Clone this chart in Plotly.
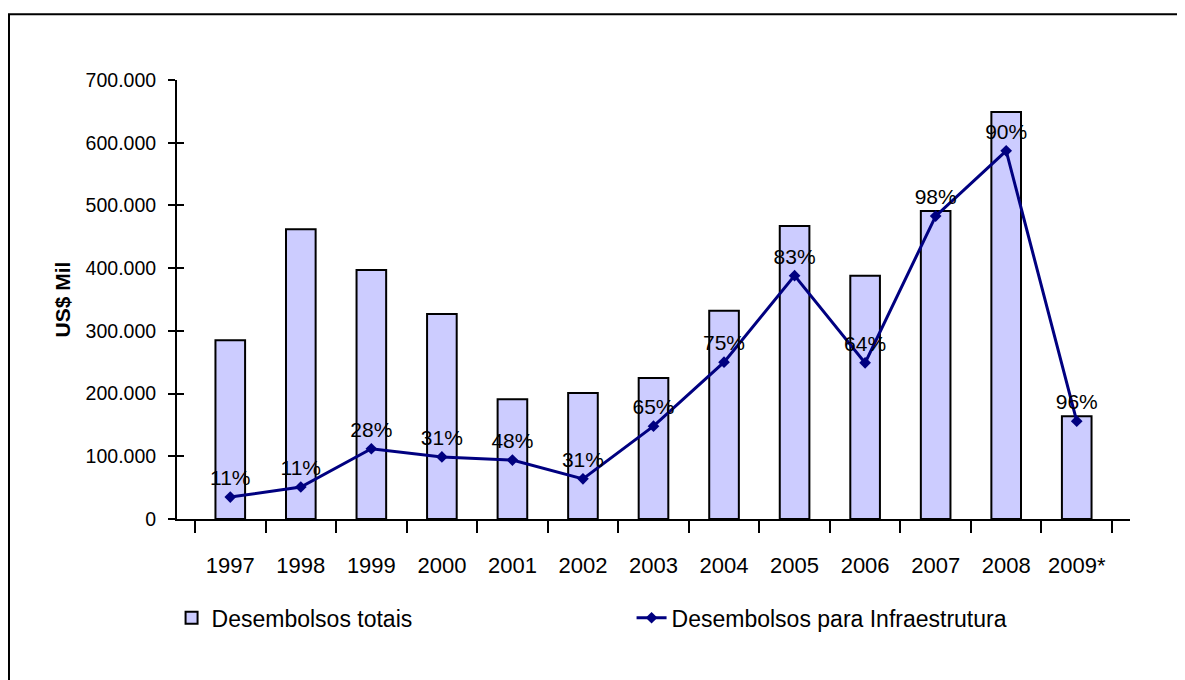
import plotly.graph_objects as go

years = ["1997", "1998", "1999", "2000", "2001", "2002", "2003", "2004",
         "2005", "2006", "2007", "2008", "2009*"]
total = [285000, 462000, 397000, 327000, 191000, 201000, 225000, 332000,
         467000, 388000, 491000, 649000, 164000]
infra = [35000, 51000, 112000, 99000, 94000, 64000, 148000, 250000,
         388000, 249000, 483000, 587000, 156000]
pct_labels = ["11%", "11%", "28%", "31%", "48%", "31%", "65%", "75%",
              "83%", "64%", "98%", "90%", "96%"]

FONT = "Liberation Sans, Arial, sans-serif"
TICKS = [0, 100000, 200000, 300000, 400000, 500000, 600000, 700000]

fig = go.Figure()
fig.add_trace(go.Bar(
    x=years, y=total, name="Desembolsos totais",
    marker=dict(color="#CCCCFF", line=dict(color="black", width=2)),
))
fig.add_trace(go.Scatter(
    x=years, y=infra, name="Desembolsos para Infraestrutura", yaxis="y2",
    mode="lines+markers+text", text=pct_labels, textposition="top center",
    textfont=dict(family=FONT, size=21, color="black"),
    line=dict(color="#000080", width=3),
    marker=dict(symbol="diamond", size=9, color="#000080"),
))

fig.update_layout(
    width=1185, height=680,
    margin=dict(l=169, r=63, t=72, b=169),
    paper_bgcolor="white", plot_bgcolor="white",
    separators=",.",
    font=dict(family=FONT, color="black"),
    bargap=0.58,
    showlegend=True,
    legend=dict(orientation="h", x=-0.0057, xanchor="left", y=-0.225, yanchor="middle",
                font=dict(family=FONT, size=23), entrywidth=415, entrywidthmode="pixels",
                traceorder="normal"),
    xaxis=dict(type="category", showline=True, linecolor="black", linewidth=2,
               ticks="outside", tickson="boundaries", ticklen=12, tickwidth=2,
               tickcolor="black", tickfont=dict(family=FONT, size=22), tickangle=0,
               ticklabelstandoff=26, showgrid=False, zeroline=False, automargin=False),
    yaxis=dict(range=[0, 700000], tickvals=TICKS,
               tickformat=",d", showline=True, linecolor="black", linewidth=2,
               ticks="outside", ticklen=7, tickwidth=2, tickcolor="black",
               tickfont=dict(family=FONT, size=19.5), ticklabelstandoff=8,
               showgrid=False, zeroline=False, automargin=False,
               title=dict(text="<b>US$ Mil</b>", font=dict(family=FONT, size=21), standoff=9)),
    yaxis2=dict(range=[0, 700000], overlaying="y", side="left", anchor="x",
                tickvals=TICKS, ticks="inside", ticklen=7, tickwidth=2, tickcolor="black",
                showticklabels=False, showline=False, showgrid=False, zeroline=False,
                automargin=False),
    shapes=[dict(type="rect", xref="paper", yref="paper",
                 x0=-0.1763, x1=1.08, y0=-0.42, y1=1.150,
                 line=dict(color="black", width=2), fillcolor="rgba(0,0,0,0)", layer="below")],
)

fig.write_html("out.html")
